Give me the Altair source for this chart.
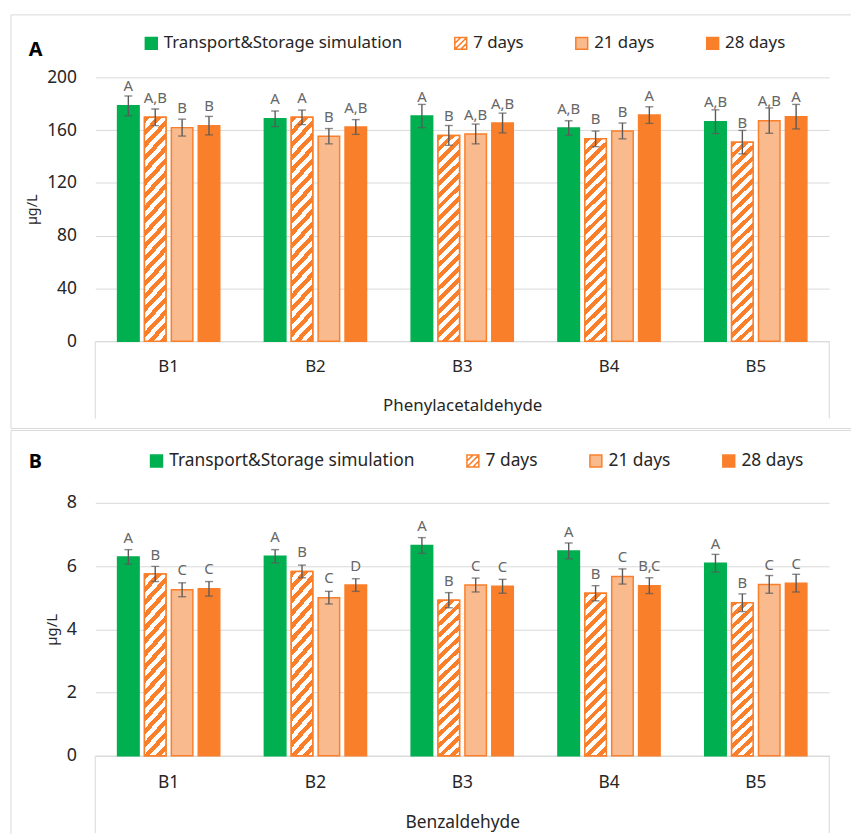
import math
import altair as alt
import pandas as pd

# ---------------- data ----------------
categories = ["B1", "B2", "B3", "B4", "B5"]
series = ["Transport&Storage simulation", "7 days", "21 days", "28 days"]

# Panel A: Phenylacetaldehyde (µg/L)
phen_ts = [178.4, 168.6, 170.7, 161.6, 166.4]
phen_7d = [169.7, 169.7, 156.0, 153.4, 150.9]
phen_21d = [161.9, 155.4, 157.1, 159.4, 167.2]
phen_28d = [163.4, 162.4, 165.4, 171.4, 170.2]
phen_err_ts = [7.5, 5.9, 8.8, 5.5, 9.0]
phen_err_7d = [6.3, 5.5, 7.5, 5.9, 8.9]
phen_err_21d = [6.4, 5.8, 7.5, 6.0, 9.6]
phen_err_28d = [7.0, 5.6, 7.5, 6.3, 9.3]
phen_let_ts = ["A", "A", "A", "A,B", "A,B"]
phen_let_7d = ["A,B", "A", "B", "B", "B"]
phen_let_21d = ["B", "B", "A,B", "B", "A,B"]
phen_let_28d = ["B", "A,B", "A,B", "A", "A"]

# Panel B: Benzaldehyde (µg/L)
benz_ts = [6.29, 6.31, 6.65, 6.48, 6.09]
benz_7d = [5.75, 5.83, 4.92, 5.14, 4.84]
benz_21d = [5.25, 5.00, 5.40, 5.67, 5.42]
benz_28d = [5.28, 5.40, 5.36, 5.38, 5.46]
benz_err_ts = [0.23, 0.21, 0.25, 0.25, 0.28]
benz_err_7d = [0.24, 0.20, 0.24, 0.24, 0.28]
benz_err_21d = [0.22, 0.20, 0.22, 0.24, 0.28]
benz_err_28d = [0.23, 0.20, 0.22, 0.25, 0.28]
benz_let_ts = ["A", "A", "A", "A", "A"]
benz_let_7d = ["B", "B", "B", "B", "B"]
benz_let_21d = ["C", "C", "C", "C", "C"]
benz_let_28d = ["C", "D", "C", "B,C", "C"]

panel_labels = ["A", "B"]
x_titles = ["Phenylacetaldehyde", "Benzaldehyde"]
y_title = "µg/L"
y_ticks_a = [0, 40, 80, 120, 160, 200]
y_ticks_b = [0, 2, 4, 6, 8]

# ---------------- styles ----------------
GREEN = "#00B050"
ORANGE = "#FA7F2A"
LIGHT = "#F9BA8E"
WHITE = "#FFFFFF"
GRAY = "#595959"
LETTER = "#666666"
FRAME = "#D9D9D9"
TEXT = "#262626"
FONT = "Noto Sans"
HATCH_PATH = "M-1,-1H1V1H-1Z M-1,0L0,-1 M-1,1L1,-1 M0,1L1,0"
FILLS = [GREEN, WHITE, LIGHT, ORANGE]
STROKES = [GREEN, ORANGE, ORANGE, ORANGE]
SHAPES = ["square", HATCH_PATH, "square", "square"]

W = 740


def long_df(vals, errs, lets):
    rows = []
    for i, c in enumerate(categories):
        for s, v, e, l in zip(series, vals, errs, lets):
            rows.append({"cat": c, "series": s, "value": v[i], "err": e[i], "letter": l[i]})
    d = pd.DataFrame(rows)
    d["lo"] = d["value"] - d["err"]
    d["hi"] = d["value"] + d["err"]
    return d


df_a = long_df([phen_ts, phen_7d, phen_21d, phen_28d],
               [phen_err_ts, phen_err_7d, phen_err_21d, phen_err_28d],
               [phen_let_ts, phen_let_7d, phen_let_21d, phen_let_28d])
df_b = long_df([benz_ts, benz_7d, benz_21d, benz_28d],
               [benz_err_ts, benz_err_7d, benz_err_21d, benz_err_28d],
               [benz_let_ts, benz_let_7d, benz_let_21d, benz_let_28d])


def hatch_gradient(h, w=22.0, period=12.0):
    r = w / h
    s = (1 + r) / (1 + r * r)
    n = (h + w) / period
    stops = []
    k = 0
    while k / n < 1:
        t0 = k / n
        tm = min((k + 0.5) / n, 1.0)
        t1 = min((k + 1) / n, 1.0)
        stops += [alt.GradientStop(offset=t0, color=ORANGE),
                  alt.GradientStop(offset=tm, color=ORANGE),
                  alt.GradientStop(offset=tm, color=WHITE),
                  alt.GradientStop(offset=t1, color=WHITE)]
        k += 1
    return alt.LinearGradient(gradient="linear", stops=stops, x1=0, y1=0, x2=s * r, y2=s)


def panel(df, H, ymax, yticks, xtitle, plabel, fs, legend_x, legend_y,
          frame_top, frame_bottom, draw_bottom, label_y, hatch_h):
    base = alt.Chart(df)
    xscale = alt.Scale(domain=categories, paddingInner=0.304, paddingOuter=0.152)
    yscale = alt.Scale(domain=[0, ymax], nice=False, zero=True)
    xaxis = alt.Axis(title=xtitle, labelAngle=0, ticks=False, domainColor=FRAME, domainWidth=1,
                     labelPadding=18, labelFontSize=fs, labelColor=TEXT, labelFont=FONT,
                     titleFont=FONT, titleFontSize=fs, titleFontWeight="normal",
                     titleColor=TEXT, titlePadding=23, grid=False)
    yaxis = alt.Axis(values=yticks, title=y_title, grid=True, gridColor=FRAME, domain=False,
                     ticks=False, labelPadding=19, labelFontSize=fs + 0.5, labelColor=TEXT,
                     labelFont=FONT, titleFont=FONT, titleFontSize=fs - 2.5,
                     titleFontWeight="normal", titleColor=TEXT, titlePadding=7)
    x = alt.X("cat:N", scale=xscale, axis=xaxis)

    def Y(field):
        return alt.Y(field, scale=yscale, axis=yaxis)

    xo = alt.XOffset("series:N", scale=alt.Scale(domain=series, paddingInner=0.2, paddingOuter=0))
    leg = alt.Legend(orient="none", legendX=legend_x, legendY=legend_y, direction="horizontal",
                     title=None, symbolSize=144, symbolStrokeWidth=1.5, symbolOpacity=1,
                     labelFont=FONT, labelFontSize=fs, labelColor=TEXT, labelOffset=4,
                     columnPadding=49, padding=0, labelLimit=400)
    fill = alt.Fill("series:N", scale=alt.Scale(domain=series, range=FILLS), legend=leg)
    stroke = alt.Stroke("series:N", scale=alt.Scale(domain=series, range=STROKES), legend=leg)
    shape = alt.Shape("series:N", scale=alt.Scale(domain=series, range=SHAPES), legend=leg)

    bars = base.mark_bar(strokeWidth=1.5).encode(
        x=x, xOffset=xo, y=Y("value:Q"), fill=fill, stroke=stroke)
    hatch = base.transform_filter(alt.datum.series == "7 days").mark_bar(
        fill=hatch_gradient(hatch_h), stroke=ORANGE, strokeWidth=1.5).encode(
        x=x, xOffset=xo, y=Y("value:Q"))
    legend_src = base.transform_filter("datum.value < 0").mark_point(
        filled=True, opacity=1).encode(shape=shape, fill=fill, stroke=stroke)
    err = base.mark_rule(color=GRAY, strokeWidth=1.4).encode(
        x=x, xOffset=xo, y=Y("lo:Q"), y2="hi:Q")
    cap_hi = base.mark_tick(color=GRAY, thickness=1.4, size=8).encode(
        x=x, xOffset=xo, y=Y("hi:Q"))
    cap_lo = base.mark_tick(color=GRAY, thickness=1.4, size=8).encode(
        x=x, xOffset=xo, y=Y("lo:Q"))
    letters = base.mark_text(dy=-14.5, fontSize=15, color=LETTER, baseline="alphabetic",
                             font=FONT).encode(
        x=x, xOffset=xo, y=Y("value:Q"), text="letter:N")

    deco = alt.Chart(pd.DataFrame({"k": [0]}))
    sep_l = deco.mark_rule(color=FRAME, strokeWidth=1).encode(
        x=alt.value(0), y=alt.value(H), y2=alt.value(H + 78))
    sep_r = deco.mark_rule(color=FRAME, strokeWidth=1).encode(
        x=alt.value(W), y=alt.value(H), y2=alt.value(H + 78))
    fr_left = deco.mark_rule(color=FRAME, strokeWidth=1).encode(
        x=alt.value(-85), y=alt.value(frame_top), y2=alt.value(frame_bottom))
    fr_top = deco.mark_rule(color=FRAME, strokeWidth=1).encode(
        x=alt.value(-85), x2=alt.value(762), y=alt.value(frame_top))
    lab = deco.mark_text(text=plabel, fontWeight="bold", fontSize=20, align="left",
                         baseline="alphabetic", color="#000000", font=FONT).encode(
        x=alt.value(-67), y=alt.value(label_y))
    layers = [bars, hatch, err, cap_hi, cap_lo, letters, legend_src,
              sep_l, sep_r, fr_left, fr_top, lab]
    if draw_bottom:
        fr_bot = deco.mark_rule(color=FRAME, strokeWidth=1).encode(
            x=alt.value(-85), x2=alt.value(762), y=alt.value(frame_bottom))
        layers.append(fr_bot)
    return alt.layer(*layers).properties(width=W, height=H)


top = panel(df_a, 266, 200, y_ticks_a, x_titles[0], panel_labels[0], 17,
            legend_x=48, legend_y=-43, frame_top=-63, frame_bottom=354, draw_bottom=True,
            label_y=-22, hatch_h=213)
bottom = panel(df_b, 255, 8, y_ticks_b, x_titles[1], panel_labels[1], 17.5,
               legend_x=53, legend_y=-51, frame_top=-73, frame_bottom=334, draw_bottom=False,
               label_y=-35, hatch_h=169)

chart = alt.vconcat(top, bottom, spacing=0).resolve_scale(
    x="independent", y="independent", xOffset="independent",
    fill="independent", stroke="independent", shape="independent"
).properties(
    padding={"left": 2, "top": 2.5, "right": 0, "bottom": 0}
).configure(font=FONT).configure_view(stroke=None)

chart.save("out.html", embed_options={"renderer": "svg", "actions": False})
